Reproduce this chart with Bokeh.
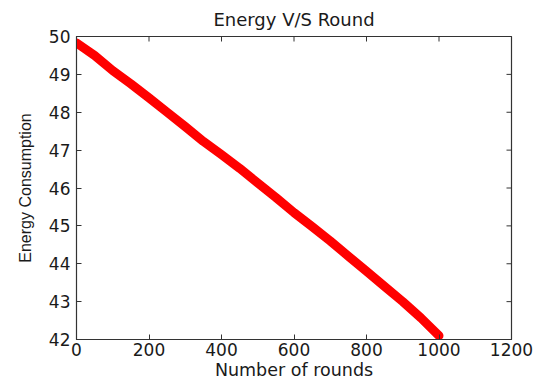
import math
from bokeh.plotting import figure
from bokeh.models import FixedTicker, Range1d
from bokeh.embed import file_html
from bokeh.resources import INLINE

# Data
rounds = [0, 50, 100, 150, 200, 250, 300, 350, 400, 450, 500, 550, 600,
          650, 700, 750, 800, 850, 900, 950, 1000]
energy = [49.83, 49.50, 49.10, 48.75, 48.38, 48.00, 47.62, 47.23, 46.88,
          46.52, 46.13, 45.75, 45.35, 44.98, 44.60, 44.20, 43.80, 43.40,
          43.00, 42.57, 42.10]

x_ticks = [0, 200, 400, 600, 800, 1000, 1200]
y_ticks = [42, 43, 44, 45, 46, 47, 48, 49, 50]

title_text = "Energy V/S Round"
x_label = "Number of rounds"
y_label = "Energy Consumption"

AX = "#333333"
TXT = "#1a1a1a"

p = figure(width=538, height=387, output_backend="svg", toolbar_location=None,
           x_range=Range1d(0, 1200), y_range=Range1d(42, 50),
           min_border_left=76, min_border_right=27, min_border_top=36,
           min_border_bottom=48, title=title_text)

p.background_fill_color = "white"
p.border_fill_color = "white"
p.outline_line_color = AX
p.outline_line_width = 1.2
p.grid.visible = False

p.title.align = "center"
p.title.vertical_align = "top"
p.title.text_font = "DejaVu Sans"
p.title.text_font_size = "18px"
p.title.text_font_style = "normal"
p.title.text_color = TXT
p.title.standoff = 10

for ax, ticks in ((p.xaxis[0], x_ticks), (p.yaxis[0], y_ticks)):
    ax.ticker = FixedTicker(ticks=ticks)
    ax.major_tick_in = 5
    ax.major_tick_out = 0
    ax.minor_tick_line_color = None
    ax.axis_line_color = AX
    ax.major_tick_line_color = AX
    ax.major_label_text_font = "DejaVu Sans"
    ax.major_label_text_font_size = "17px"
    ax.major_label_text_color = TXT
    ax.axis_label_text_color = TXT
    ax.axis_label_text_font_style = "normal"

p.xaxis[0].axis_label = x_label
p.xaxis[0].axis_label_text_font = "DejaVu Sans"
p.xaxis[0].axis_label_text_font_size = "17.5px"
p.xaxis[0].major_label_standoff = 3
p.xaxis[0].axis_label_standoff = 1

p.yaxis[0].axis_label = y_label
p.yaxis[0].axis_label_text_font = "Liberation Sans"
p.yaxis[0].axis_label_text_font_size = "16px"
p.yaxis[0].major_label_standoff = 6
p.yaxis[0].axis_label_standoff = 12

# inward ticks on the top and right edges of the box (half clipped by the frame)
p.scatter(x_ticks, [p.y_range.end] * len(x_ticks), marker="dash", size=10,
          angle=math.pi / 2, line_color=AX, line_width=1)
p.scatter([p.x_range.end] * len(y_ticks), y_ticks, marker="dash", size=10,
          line_color=AX, line_width=1)

p.line(rounds, energy, line_color="#ff0000", line_width=9, line_cap="round",
       line_join="round")

open("out.html", "w").write(file_html(p, INLINE))
